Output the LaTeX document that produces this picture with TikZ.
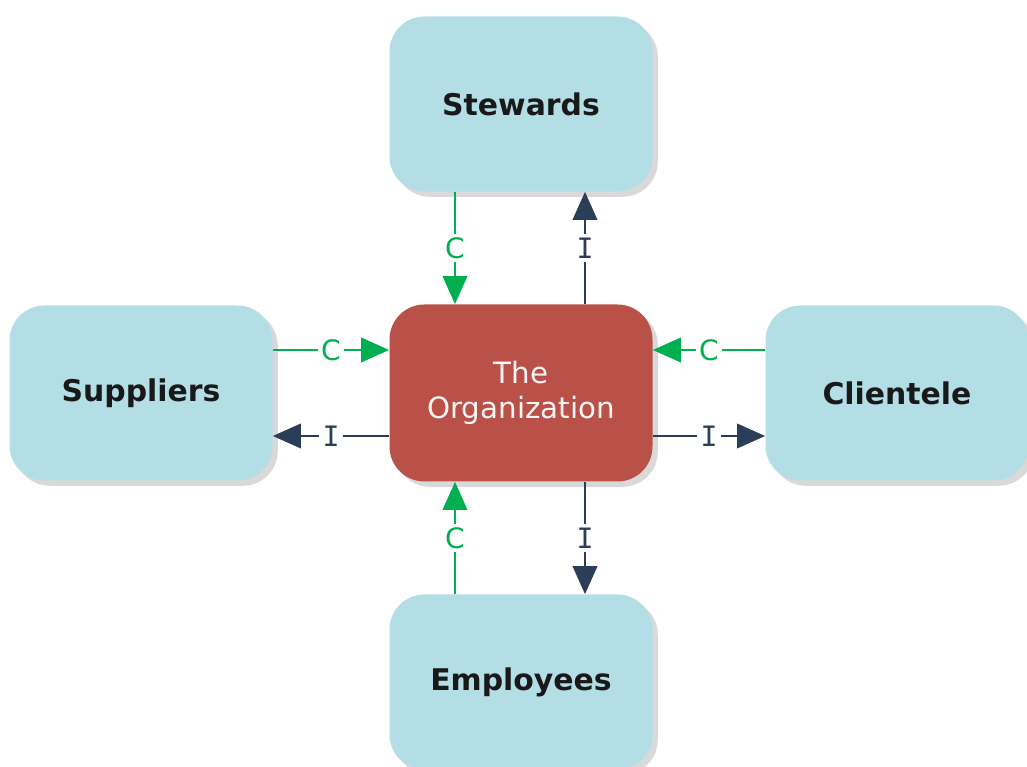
\documentclass[tikz,border=0pt]{standalone}
\usepackage{fontspec}
\setmainfont{DejaVu Sans}
\newfontfamily\serifI{DejaVu Sans Mono}
\usetikzlibrary{arrows.meta,shadows}

\definecolor{boxblue}{HTML}{B4DEE6}
\definecolor{orgred}{HTML}{BA5149}
\definecolor{cgreen}{HTML}{00B050}
\definecolor{idark}{HTML}{2B3E58}

\tikzset{
  stakebox/.style={rectangle, rounded corners=0.7cm, fill=boxblue,
    minimum width=5.26cm, minimum height=3.5cm, text=black!90,
    font=\fontsize{17}{21}\selectfont\bfseries,
    drop shadow={shadow xshift=3pt, shadow yshift=-3pt, opacity=0.3}},
  orgbox/.style={stakebox, fill=orgred, text=white!95!orgred, align=center,
    minimum height=3.54cm, font=\fontsize{16.7}{20}\selectfont},
  cflow/.style={cgreen, line width=1.2pt, -{Triangle[length=16pt,width=14pt]}},
  iflow/.style={idark, line width=1.2pt, -{Triangle[length=16pt,width=14pt]}},
  flowlabel/.style={fill=white, inner sep=2pt, font=\fontsize{16}{20}\selectfont}
}

\begin{document}
\begin{tikzpicture}
  \useasboundingbox (0,0) rectangle (20.54,-15.34);

  \node[orgbox] (org) at (10.42,-7.86) {The\\Organization};
  \node[stakebox] (stew) at (10.42,-2.08) {Stewards};
  \node[stakebox] (supp) at (2.82,-7.86) {Suppliers};
  \node[stakebox] (clie) at (17.94,-7.86) {Clientele};
  \node[stakebox] (empl) at (10.42,-13.64) {Employees};

  \draw[cflow] ([xshift=-1.32cm]stew.south) -- ([xshift=-1.32cm]org.north) node[flowlabel,midway]{C};
  \draw[iflow] ([xshift=1.28cm]org.north) -- ([xshift=1.28cm]stew.south) node[flowlabel,midway]{\serifI I};

  \draw[cflow] ([yshift=0.86cm]supp.east) -- ([yshift=0.86cm]org.west) node[flowlabel,midway]{C};
  \draw[iflow] ([yshift=-0.86cm]org.west) -- ([yshift=-0.86cm]supp.east) node[flowlabel,midway]{\serifI I};

  \draw[cflow] ([yshift=0.86cm]clie.west) -- ([yshift=0.86cm]org.east) node[flowlabel,midway]{C};
  \draw[iflow] ([yshift=-0.86cm]org.east) -- ([yshift=-0.86cm]clie.west) node[flowlabel,midway]{\serifI I};

  \draw[cflow] ([xshift=-1.32cm]empl.north) -- ([xshift=-1.32cm]org.south) node[flowlabel,midway]{C};
  \draw[iflow] ([xshift=1.28cm]org.south) -- ([xshift=1.28cm]empl.north) node[flowlabel,midway]{\serifI I};
\end{tikzpicture}
\end{document}
